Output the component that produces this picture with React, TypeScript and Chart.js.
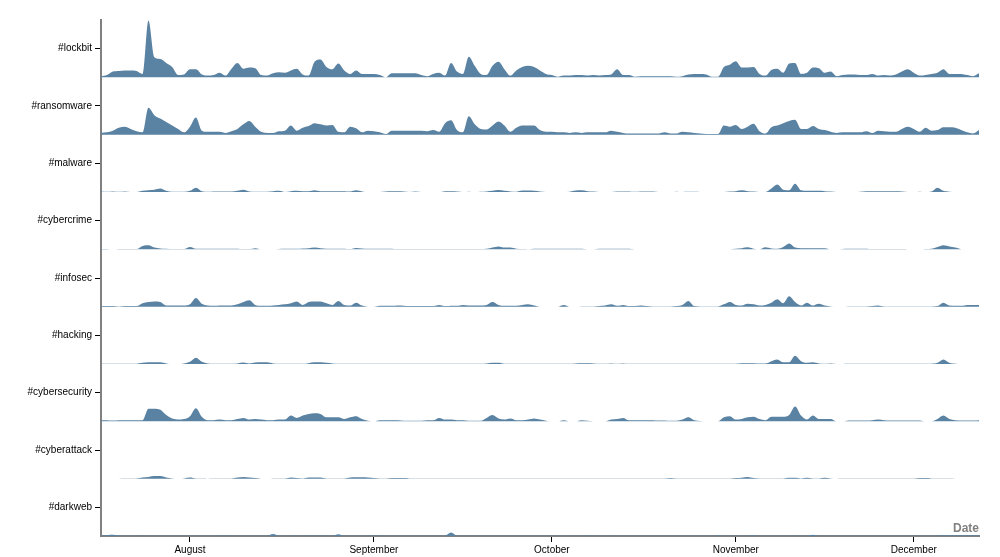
import React, { useEffect, useRef } from 'react';
import { Chart, registerables } from 'chart.js';

Chart.register(...registerables);

// ---- data -----------------------------------------------------------------
const startDate = new Date(2023, 6, 17); // first day of the series
const categories = ['#lockbit', '#ransomware', '#malware', '#cybercrime', '#infosec', '#hacking', '#cybersecurity', '#cyberattack', '#darkweb'];
const monthLabels = ['August', 'September', 'October', 'November', 'December'];

const lockbit = [2,4,10,11,12,12,11,6,99,35, 32,25,18,4,5,14,14,5,3,4, 8,3,15,25,15,17,16,4,3,7, 9,8,12,15,5,3,27,31,18,14, 24,12,6,12,6,6,6,4,0,7, 7,7,7,7,4,2,6,8,3,25, 10,6,36,20,6,4,20,27,14,3, 12,18,20,18,12,6,4,1,3,3, 4,4,3,4,3,4,5,14,4,4, 1,2,2,2,2,2,2,1,2,5, 6,6,5,1,1,18,22,28,17,17, 18,6,3,13,15,8,24,25,6,8, 17,16,8,10,2,4,5,5,4,4, 6,3,4,3,5,10,14,8,3,4, 6,8,14,6,6,6,4,2,7];
const ransomware = [3,4,7,12,14,10,6,4,47,34, 28,22,16,10,4,14,30,7,5,5, 5,3,6,10,18,24,14,5,3,3, 6,7,16,7,12,15,20,18,16,17, 5,4,14,11,4,7,6,4,1,7, 7,7,7,7,7,6,8,5,20,25, 8,4,32,18,10,9,16,23,16,5, 12,16,16,16,8,5,5,4,4,3, 4,3,4,4,4,4,7,5,3,2, 2,2,2,2,2,4,2,2,5,4, 3,2,1,1,1,16,14,17,10,14, 19,6,2,13,16,20,24,26,10,10, 15,10,8,5,3,4,4,4,4,6, 3,7,6,5,5,10,14,10,5,12, 7,8,13,13,12,8,4,2,8];
const malware = [1,0.5,1,0.5,1,0,0,2,3,4, 6,2,0.5,0.5,0.5,2,7.5,1.5,0.5,1, 1,1,1,2,4,1,0.5,0.5,0.5,1.5, 2,0,1.5,2,1.5,1.5,3,1.5,1.5,1.5, 1.5,1.5,1,3,1,0,0,0,1,1.5, 1.5,1,0,1,0,0,0,0,1.5,1.5, 1,0,0.5,0,0.5,1,2,3.5,2,1, 0.5,2.5,2.5,2,1,0,0,0,0,0.5, 2.5,3,1.5,1,0,0,0,1,1,1, 0.5,1,1,1,0,0,0,0.5,0,0.3, 0.3,0.2,0.2,0.2,0.2,0.2,1,1.5,3,1.5, 1,0,0,6,13,4,3,14.5,3,2, 2,2,1.5,1,0,0,0,0,0.5,1.5, 1.5,1.5,1.5,1.5,1.5,1,0,0,0.5,0, 1,7.5,2,0.5,0,0];
const cybercrime = [0.5,0.5,0,0.5,0.5,0.5,0.5,6,7,3, 1.5,1,0.5,0.5,0.5,4,1,1,1,1, 1,1,1,1,0.5,0.5,2,0,0,0, 0.5,1,1,1,1.5,2,3,2,1,1, 1,1,0.5,2.5,1.5,1.2,1.2,1.2,1.2,1, 0.5,0.5,0.5,0.5,0.5,0.5,0.5,0.5,0.5,0.5, 0.5,0.5,0.5,0.5,0.5,1,3,5,3,3, 1,0.5,0.3,1,1,1,1,1,1,1, 1,1,0.3,0.3,1,1,1.2,1.2,1.2,1, 0,0,0.2,0.2,0.2,0.2,0.2,0.3,0.3,0.3, 0.3,0.3,0.3,0.3,0.3,0.3,0.3,1,2,3.5, 1,0,3.5,1.5,1,4,10,3,2,2, 2,2,2,0,0,0.5,1,1,1,1, 0.5,0.5,0.5,0.5,0.5,0.5,0.3,0,0,0.5, 1,4,7,5,3,0];
const infosec = [1,1,1,0.5,1,1,1,6,8,9, 8,2,2,2,2,4,15,5,2,1.5, 2,2,2,4,8,11,3,1.5,1.5,2, 3,4,6,9,3,8,9,9,6,3, 10,3,2,7,2,0,0,1.5,1.5,1.5, 2,1.5,1,1,1,1,1,3,1,1.5, 1.5,3,2,2,2,3,8,3,1.5,1.5, 1.5,3,4,2,0,0,0,0,3,0, 0,0.5,0.5,0.5,1,2,4,1.5,3,1, 1,2,1,0.5,0.5,0.5,0.5,1,3,10, 1,0.3,0.3,0.3,0.5,4,8,3,2,5, 4,2,3,7,13,6,18,8,2,7, 2,5,2,0.5,0,0,0.5,0.5,0.5,0.5, 1,2,0.5,0.5,0.5,0.5,0.5,0.5,0.5,0.5, 0.5,1,7,2,1.5,1.5,3,3,3];
const hacking = [0.3,0.3,0.3,0.3,0.3,0.3,0.5,2,3,3, 3,1,0,0,1,4,11,4,1,0.5, 0.5,0.5,0.5,1,2.5,1,2.5,3,3,1, 0.5,0.5,0.5,0.5,0.5,1.5,3,3,2,1, 0.5,0.5,0.3,0.3,0.3,0.3,0.3,0.3,0.3,0.3, 0.3,0.3,0.3,0.3,0.5,0.5,0.5,0.5,0.5,0.5, 0.5,0.5,0.5,0.5,0.5,1,2,2,0.5,0.3, 0.3,0.3,0.3,0.3,0.3,0.3,0.3,0.3,0.3,0.3, 1,1.5,1.5,1,0.3,0.3,1,0.3,1,0.3, 0.3,0.3,0.3,0.3,0.3,0.3,0.3,0.3,0.3,0.3, 0.3,0.3,0.3,0.3,0.3,0.3,0.3,0.5,1.5,1.5, 1.5,1,1,5,8,3,3,14.5,5,2, 3,1,0.5,1,0,0,0.3,0.5,0.5,0.5, 0.5,0.5,0.5,0.5,0.5,0.3,0.3,0.3,0.3,0.3, 0.5,2,8,2,0.5,0];
const cybersecurity = [2,2,1.5,2,2,2,2,2,22,22, 20,11,5,3,4,9,23,8,2,2, 3,2,2,4,6,3,4,3,2,2, 3,3,10,6,10,13,14,13,7,7, 7,4,7,9,4,1,0,2,2,2, 2,1,1,1,1,2,2,6,3,3, 2,2,1,1,1,6,11,5,3,5, 2,2,3,5,3,1,0,0,2,0, 0,2,1,0,0,0,3,4,6,2, 2,2,2,2,1.5,1.5,1,1,3,7, 2,0.5,0,0,0,7,9,3,4,7, 8,4,2,8,8,8,11,26,10,3, 10,4,4,4,0,0,1.5,1.5,1.5,1.5, 2,3,2,1.5,1.5,1.5,1.5,1.5,1.5,0, 0,4,10,4,2,1.5,1.5,1.5,2];
const cyberattack = [0,0,0,0,0.2,0.3,0.3,2,3,4.5, 4.5,2,0.3,0,0.5,2,0.5,0.3,0,0.3, 0.5,0.5,0.5,2,3,2,1,0,0,0.5, 0.5,0.5,2,1,0.5,2,2,2,0.5,0.5, 0.3,0.3,2,2.5,2.5,2,1,0.5,0.3,1, 1,1,0.5,0.3,0.5,0.3,0.3,0.5,0.2,0.5, 0.3,0.3,0.3,0.3,0.3,0.2,0.5,0.3,0.3,0.2, 0.3,0.5,0.3,0.2,0.2,0.2,0.2,0.2,0.2,0.2, 0.2,0.2,0.2,0.2,0.2,0.2,0.2,0.2,0.2,0.2, 0.2,0.2,0.2,0.2,0.2,0.2,1,0.2,0.2,0.2, 0.2,0.2,0.2,0.2,0.2,0.5,0.5,1,1.5,3, 1,0.5,0.5,0.5,0.5,0.5,1.5,1.5,0.5,1.5, 0.5,0.5,1.5,0.5,0,0.3,0.3,0.3,0.3,0.3, 0.3,0.3,0.3,0.3,0.3,0.3,0.3,0.3,1,1, 0.5,0.3,0.3,0.3,0,0];
const darkweb = [0.5,1.5,2,1,0.3,0.3,0.3,1,0.5,0.5, 0.5,0.3,0.3,0.3,0.5,0.5,0.3,0.5,0.3,0.3, 1,1,1,0.3,0.3,0.3,0.3,0.3,0.5,3.5, 0.5,0.3,0.5,1,0.5,1,1,1,0.5,0.3, 3,0.5,0.3,0.3,0.3,0.5,1,1,0.5,0.5, 0.3,0.5,0.3,0.3,0.3,0.3,0.3,0.3,0.5,6, 0.5,0.3,0.3,0.3,0.5,0.5,0.5,0.5,0.5,0.5, 0.3,0.5,0.5,0.5,0.5,0.5,0.3,0.3,0.3,0.3, 1,0.5,1,1,0.3,0.3,1,0.3,0.3,0.3, 0.5,0.5,0.5,0.5,0.3,0.3,0.3,0.3,0.3,0.3, 0.3,0.3,0.3,0.3,1.5,0.5,0.3,1,0.3,0.3, 1.5,0.3,0.3,0.3,0.5,0.5,0.3,1,0.3,0.3, 2,0.5,0.5,0.3,0.3,0.5,0.5,0.5,0.5,0.5, 0.5,0.5,0.3,0.3,0.3,0.3,0.3,1,0.5,0.5, 0.5,1,1.5,1.5,1.5,1.5,1.5,1.5,1.5];

const seriesValues = [lockbit, ransomware, malware, cybercrime, infosec, hacking, cybersecurity, cyberattack, darkweb];

// ---- layout / style constants -------------------------------------------
const ROW = 100;          // vertical units per ridge row
const LABEL_OFFSET = 50;  // label tick position above each baseline
const FILL = '#5a82a2';
const FONT = '"Liberation Sans", Arial, Helvetica, sans-serif';

const DAY_MS = 86400000;
const dayIndex = (d: Date) => Math.round((d.getTime() - startDate.getTime()) / DAY_MS);
const monthStarts = monthLabels.map((_, i) => dayIndex(new Date(2023, 7 + i, 1)));
const lastDay = Math.max(...seriesValues.map((s) => s.length - 1));
const nRows = categories.length;
const baseOf = (k: number) => (nRows - 1 - k) * ROW;

const dateLabelPlugin = {
  id: 'dateLabel',
  afterDraw(chart: any) {
    const { ctx, chartArea } = chart;
    ctx.save();
    ctx.font = `bold 12px ${FONT}`;
    ctx.fillStyle = '#808080';
    ctx.textAlign = 'right';
    ctx.textBaseline = 'alphabetic';
    ctx.fillText('Date', chartArea.right, chartArea.bottom - 4);
    ctx.restore();
  },
};

export default function App() {
  const canvasRef = useRef<HTMLCanvasElement | null>(null);

  useEffect(() => {
    if (!canvasRef.current) return;
    Chart.defaults.font.family = FONT;

    const datasets = seriesValues.map((vals, k) => {
      const base = baseOf(k);
      return {
        label: categories[k],
        data: vals.map((v, d) => ({ x: d, y: base + v })),
        fill: { value: base },
        backgroundColor: FILL,
        borderColor: 'rgba(0,0,0,0)',
        borderWidth: 0,
        pointRadius: 0,
        pointHoverRadius: 0,
        cubicInterpolationMode: 'monotone' as const,
      };
    });

    const yTickValues = categories.map((_, k) => baseOf(k) + LABEL_OFFSET).sort((a, b) => a - b);

    const chart = new Chart(canvasRef.current, {
      type: 'line',
      data: { datasets },
      options: {
        animation: false,
        responsive: true,
        maintainAspectRatio: false,
        layout: { padding: { top: 20, right: 21, left: 0, bottom: 0 } },
        plugins: { legend: { display: false }, tooltip: { enabled: false } },
        scales: {
          x: {
            type: 'linear',
            min: 0,
            max: lastDay,
            afterBuildTicks: (s: any) => {
              s.ticks = monthStarts.map((v) => ({ value: v }));
            },
            afterFit: (s: any) => {
              s.height = 21;
            },
            ticks: {
              autoSkip: false,
              maxRotation: 0,
              color: '#000',
              padding: 2,
              font: { size: 10, family: FONT },
              callback: (_v: any, i: number) => monthLabels[i],
            },
            grid: { display: true, drawOnChartArea: false, drawTicks: true, tickLength: 6, color: '#000', lineWidth: 1 },
            border: { display: true, color: '#808080', width: 2 },
          },
          y: {
            type: 'linear',
            min: 0,
            max: nRows * ROW,
            afterBuildTicks: (s: any) => {
              s.ticks = yTickValues.map((v) => ({ value: v }));
            },
            afterFit: (s: any) => {
              s.width = 101;
            },
            ticks: {
              color: '#000',
              padding: 3,
              font: { size: 10, family: FONT },
              callback: (v: any) => {
                const k = categories.findIndex((_, j) => baseOf(j) + LABEL_OFFSET === Number(v));
                return k >= 0 ? categories[k] : '';
              },
            },
            grid: { display: true, drawOnChartArea: false, drawTicks: true, tickLength: 6, color: '#000', lineWidth: 1 },
            border: { display: true, color: '#808080', width: 2 },
          },
        },
      },
      plugins: [dateLabelPlugin],
    } as any);

    return () => chart.destroy();
  }, []);

  return (
    <div style={{ position: 'absolute', left: 0, top: 0, width: 1000, height: 557 }}>
      <canvas ref={canvasRef} />
    </div>
  );
}
